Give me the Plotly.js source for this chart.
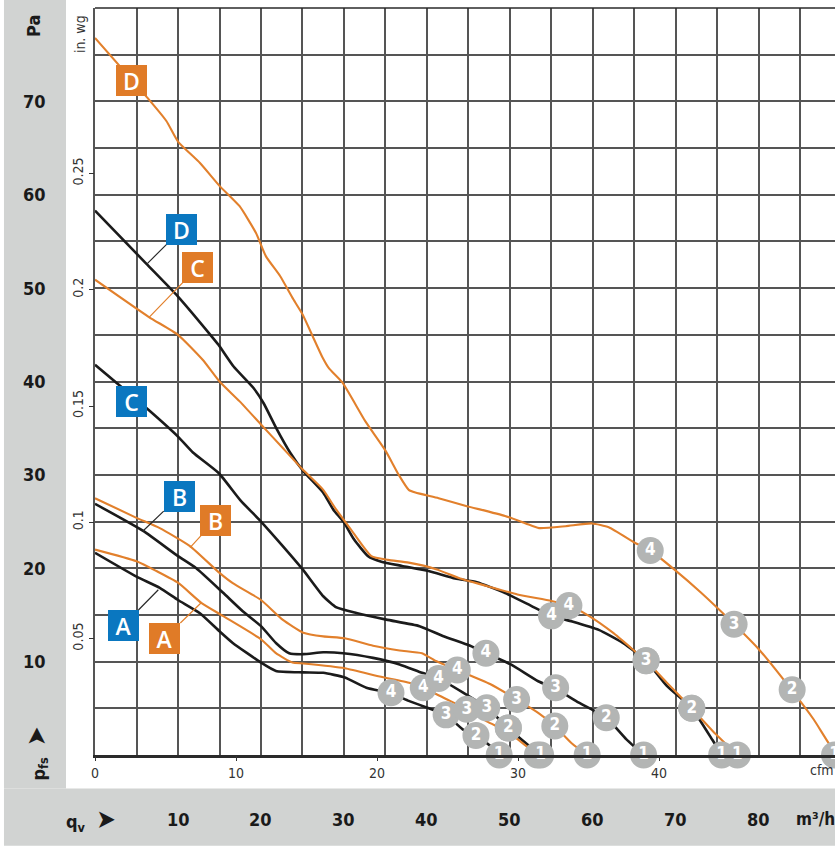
<!DOCTYPE html>
<html>
<head>
<meta charset="utf-8">
<script src="https://cdn.plot.ly/plotly-3.0.1.min.js"></script>
<style>html,body{margin:0;padding:0;background:#fff;}#chart{width:835px;height:846px;}</style>
</head>
<body>
<div id="chart"></div>
<script>
// ---- Data (x: m³/h, y: Pa) ----
const curveBA_x = [0, 5.0, 7.8, 10.0, 12.6, 15.0, 16.6, 20.0, 21.8, 25.1, 27.5, 30.1, 32.7, 35.66, 37.8, 40.2, 42.3, 44.3, 45.9, 47.6, 48.7];
const curveBA_y = [21.65, 19.1, 17.9, 16.6, 15.2, 13.25, 12.0, 9.9, 9.0, 8.85, 8.8, 8.3, 7.2, 6.6, 5.8, 5.0, 4.3, 2.75, 2.1, 1.0, 0];
const curveOA_x = [0, 5.0, 7.4, 10.0, 12.8, 15.4, 20.0, 21.8, 23.8, 25.1, 30.1, 34.3, 37.95, 39.55, 42.3, 44.8, 47.2, 49.7, 51.9, 53.3];
const curveOA_y = [22.0, 20.75, 19.7, 18.45, 16.3, 14.9, 12.4, 10.9, 9.9, 9.8, 9.3, 8.4, 7.7, 7.2, 6.0, 4.9, 3.6, 2.5, 1.0, 0];
const curveBB_x = [0, 5.8, 10.0, 12.2, 15.4, 17.8, 20.0, 21.8, 23.4, 25.1, 27.5, 29.9, 33.5, 36.7, 39.4, 41.4, 44.3, 47.2, 49.8, 52.0, 53.7];
const curveBB_y = [26.9, 24.0, 21.3, 20.0, 17.4, 15.4, 13.8, 12.0, 10.9, 10.8, 11.0, 10.9, 10.4, 9.7, 8.8, 8.2, 6.7, 5.05, 2.9, 1.2, 0];
const curveOB_x = [0, 5.0, 7.8, 11.4, 15.0, 16.6, 20.0, 22.6, 25.1, 27.5, 30.1, 33.5, 36.7, 39.4, 41.0, 43.65, 47.6, 50.8, 53.4, 55.4, 57.5, 59.3];
const curveOB_y = [27.5, 25.4, 24.3, 22.4, 19.5, 18.4, 16.6, 14.5, 13.1, 12.7, 12.5, 11.7, 11.2, 10.9, 10.1, 9.1, 7.6, 5.95, 4.5, 3.1, 1.2, 0];
const curveBC_x = [0, 6.4, 10.0, 11.8, 14.9, 17.5, 20.0, 22.6, 25.0, 27.5, 29.1, 31.5, 35.1, 39.1, 41.9, 45.2, 47.1, 50.1, 53.4, 55.5, 58.3, 61.6, 64.0, 66.1];
const curveBC_y = [41.8, 37.0, 34.1, 32.4, 30.2, 27.3, 25.0, 22.4, 19.9, 17.0, 15.8, 15.2, 14.5, 13.8, 12.75, 11.7, 10.9, 9.7, 7.9, 7.1, 5.6, 4.0, 1.7, 0];
const curveOC_x = [0, 6.5, 10.0, 13.0, 15.0, 17.4, 20.0, 22.6, 25.0, 27.5, 28.9, 30.8, 33.3, 35.3, 37.8, 41.1, 44.0, 47.2, 50.9, 55.0, 57.1, 59.5, 62.4, 65.2, 66.4, 68.9, 71.9, 74.5, 77.4];
const curveOC_y = [50.9, 46.9, 45.0, 42.3, 40.0, 37.9, 35.4, 32.9, 30.6, 28.4, 26.5, 24.2, 21.3, 20.9, 20.6, 19.9, 18.9, 18.1, 17.2, 16.5, 16.0, 14.9, 13.1, 11.0, 10.1, 7.75, 5.0, 2.5, 0];
const curveBD_x = [0, 6.2, 10.0, 13.9, 14.9, 16.7, 19.1, 20.3, 21.9, 23.5, 25.1, 27.5, 28.7, 30.0, 31.2, 32.9, 34.5, 37.0, 40.2, 43.4, 46.0, 49.3, 52.5, 55.0, 57.5, 60.7, 63.6, 66.4, 68.9, 71.9, 74.4, 75.5];
const curveBD_y = [58.3, 52.6, 49.1, 45.0, 43.9, 41.6, 39.3, 37.7, 34.9, 32.4, 30.4, 28.1, 26.3, 24.9, 23.1, 21.3, 20.7, 20.25, 19.7, 18.9, 18.5, 17.4, 16.0, 14.9, 14.3, 13.4, 12.0, 10.1, 7.4, 5.0, 1.6, 0];
const curveOD_x = [0, 6.3, 8.6, 10.0, 12.65, 15.06, 17.4, 19.4, 20.6, 22.3, 23.9, 25.0, 26.2, 27.4, 28.2, 29.8, 32.6, 35.0, 36.6, 37.8, 38.6, 41.4, 44.6, 49.4, 51.9, 53.5, 56.7, 59.9, 61.9, 65.1, 66.9, 69.75, 73.0, 76.9, 80.0, 83.9, 86.6, 88.6, 89.7];
const curveOD_y = [76.8, 70.4, 67.9, 65.7, 63.4, 60.9, 58.8, 55.9, 53.4, 51.3, 48.8, 47.2, 44.9, 42.6, 41.4, 39.9, 35.7, 32.6, 30.0, 28.4, 28.1, 27.5, 26.7, 25.6, 24.8, 24.3, 24.5, 24.8, 24.4, 22.7, 21.9, 19.9, 17.4, 14.1, 11.3, 7.0, 3.8, 1.0, 0];

// operating points 1..4
const pointLabels = ['1', '2', '3', '4'];
const ptsBA_x = [48.7, 45.9, 42.3, 35.66], ptsBA_y = [0, 2.1, 4.3, 6.66];
const ptsOA_x = [53.3, 49.8, 44.8, 39.55], ptsOA_y = [0, 2.9, 4.9, 7.2];
const ptsBB_x = [53.7, 49.8, 47.2, 41.4], ptsBB_y = [0, 2.9, 5.05, 8.2];
const ptsOB_x = [59.3, 55.4, 50.8, 43.65], ptsOB_y = [0, 3.1, 5.95, 9.1];
const ptsBC_x = [66.1, 61.6, 55.5, 47.1], ptsBC_y = [0, 4.0, 7.2, 10.9];
const ptsBD_x = [75.5, 71.9, 66.4, 55.0], ptsBD_y = [0, 5.0, 10.1, 14.9];
const ptsOC_x = [77.4, 71.9, 66.4, 57.1], ptsOC_y = [0, 5.0, 10.1, 16.0];
const ptsOD_x = [89.1, 84.0, 77.0, 66.9], ptsOD_y = [0, 7.0, 14.0, 21.9];

// curve labels
const labelText = ['D', 'C', 'B', 'A', 'C', 'D', 'B', 'A'];
const labelSeries = ['black', 'orange', 'black', 'black', 'black', 'orange', 'orange', 'orange'];
const labelAnchorX = [6.27, 6.54, 5.75, 7.63, 4.43, 4.42, 11.45, 12.86];
const labelAnchorY = [52.6, 46.9, 23.96, 17.7, 37.87, 72.2, 22.2, 16.36];

// axis tick labels
const paTicks = [10, 20, 30, 40, 50, 60, 70];
const m3hTicks = [10, 20, 30, 40, 50, 60, 70, 80];
const cfmTicks = [0, 10, 20, 30, 40];
const inwgTicks = [0.05, 0.1, 0.15, 0.2, 0.25];
const inwgTickText = ['0.05', '0.1', '0.15', '0.2', '0.25'];

// ---- Styles ----
const BLACK = '#1b1b1b', ORANGE = '#e2802c', BLUE_BOX = '#0a77c0', ORANGE_BOX = '#e07b27';
const CIRCLE = '#b3b5b4', PANEL = '#d1d3d2';
const NARROW = 'Liberation Sans Narrow, DejaVu Sans Condensed, Arial Narrow, sans-serif';
const M3H_PER_CFM = 1.69901;
const PA_PER_INWG = 249.089;
const XMAX = 89.16, YMAX = 80;

function line(x, y, color, w) {
  return {x, y, type: 'scatter', mode: 'lines', line: {color, width: w, shape: 'spline', smoothing: 0.5}, hoverinfo: 'skip', showlegend: false};
}
function pts(x, y) {
  return {x, y, type: 'scatter', mode: 'markers+text', text: pointLabels,
    marker: {size: 27, color: CIRCLE, line: {width: 0}},
    textposition: 'middle center', textfont: {color: '#ffffff', size: 17, family: NARROW, weight: 'bold'},
    cliponaxis: false, hoverinfo: 'skip', showlegend: false};
}

const data = [
  line(curveBA_x, curveBA_y, BLACK, 2.6),
  line(curveBB_x, curveBB_y, BLACK, 2.6),
  line(curveBC_x, curveBC_y, BLACK, 2.6),
  line(curveBD_x, curveBD_y, BLACK, 2.6),
  line(curveOA_x, curveOA_y, ORANGE, 2.1),
  line(curveOB_x, curveOB_y, ORANGE, 2.1),
  line(curveOC_x, curveOC_y, ORANGE, 2.1),
  line(curveOD_x, curveOD_y, ORANGE, 2.1),
  pts(ptsBA_x, ptsBA_y), pts(ptsOA_x, ptsOA_y), pts(ptsBB_x, ptsBB_y), pts(ptsOB_x, ptsOB_y),
  pts(ptsBC_x, ptsBC_y), pts(ptsBD_x, ptsBD_y), pts(ptsOC_x, ptsOC_y), pts(ptsOD_x, ptsOD_y),
  // invisible traces to activate overlay axes
  {x: [0], y: [0], xaxis: 'x2', yaxis: 'y', type: 'scatter', mode: 'markers', marker: {opacity: 0}, hoverinfo: 'skip', showlegend: false},
  {x: [0], y: [0], xaxis: 'x', yaxis: 'y2', type: 'scatter', mode: 'markers', marker: {opacity: 0}, hoverinfo: 'skip', showlegend: false}
];

// label boxes (pixel offsets of box from anchor)
const labelOffsetX = [34.8, 48.5, 36.5, -35.1, 0, 0, 25.2, -36.9];
const labelOffsetY = [-34.8, -49.9, -34.9, 35.8, 0, 0, -27.5, 35.8];

const annotations = [];
for (let i = 0; i < labelText.length; i++) {
  const isOrange = labelSeries[i] === 'orange';
  const hasArrow = !(labelOffsetX[i] === 0 && labelOffsetY[i] === 0);
  annotations.push({
    x: labelAnchorX[i], y: labelAnchorY[i], xref: 'x', yref: 'y',
    text: labelText[i], showarrow: hasArrow, ax: labelOffsetX[i], ay: labelOffsetY[i],
    arrowhead: 0, arrowwidth: 1.2, arrowcolor: isOrange ? ORANGE : '#2a2a2a', standoff: 0,
    bgcolor: isOrange ? ORANGE_BOX : BLUE_BOX, borderpad: 0, borderwidth: 0,
    width: 31, height: 31, align: 'center', valign: 'middle',
    font: {family: 'Open Sans, Noto Sans, sans-serif', size: 23, color: '#ffffff', weight: 600}
  });
}
paTicks.forEach(v => annotations.push({
  x: -0.0811, xref: 'paper', y: v, yref: 'y', text: String(v), showarrow: false,
  xanchor: 'center', yanchor: 'middle',
  font: {family: NARROW, size: 18, color: '#1a1a1a', weight: 'bold'}
}));
m3hTicks.forEach(v => annotations.push({
  x: v, xref: 'x', y: -0.0863, yref: 'paper', text: String(v), showarrow: false,
  xanchor: 'center', yanchor: 'middle',
  font: {family: NARROW, size: 18, color: '#1a1a1a', weight: 'bold'}
}));
annotations.push(
  {x: 0.973, xref: 'paper', y: -0.0863, yref: 'paper', text: 'm³/h', showarrow: false, xanchor: 'center', yanchor: 'middle',
   font: {family: NARROW, size: 17, color: '#1a1a1a', weight: 'bold'}},
  {x: -0.0054, xref: 'paper', y: -0.0863, yref: 'paper', text: 'q<sub>v</sub>  <span style="font-size:26px">➤</span>', showarrow: false, xanchor: 'center', yanchor: 'middle',
   font: {family: NARROW, size: 18, color: '#1a1a1a', weight: 'bold'}},
  {x: -0.0797, xref: 'paper', y: 0.002, yref: 'paper', text: 'p<sub>fs</sub>  <span style="font-size:26px">➤</span>', showarrow: false, textangle: -90, xanchor: 'center', yanchor: 'middle',
   font: {family: NARROW, size: 18, color: '#1a1a1a', weight: 'bold'}},
  {x: -0.0824, xref: 'paper', y: 0.976, yref: 'paper', text: 'Pa', showarrow: false, textangle: -90, xanchor: 'center', yanchor: 'middle',
   font: {family: NARROW, size: 18, color: '#1a1a1a', weight: 'bold'}},
  {x: -0.0203, xref: 'paper', y: 0.965, yref: 'paper', text: 'in. wg', showarrow: false, textangle: -90, xanchor: 'center', yanchor: 'middle',
   font: {family: NARROW, size: 14, color: '#333333'}},
  {x: 0.9824, xref: 'paper', y: -0.0207, yref: 'paper', text: 'cfm', showarrow: false, xanchor: 'center', yanchor: 'middle',
   font: {family: NARROW, size: 14, color: '#333333'}}
);

const layout = {
  width: 835, height: 846,
  margin: {l: 95, r: 0, t: 8, b: 91, pad: 0},
  paper_bgcolor: '#ffffff', plot_bgcolor: '#ffffff',
  showlegend: false,
  xaxis: {range: [0, XMAX], dtick: 5, tick0: 0, showgrid: true, gridcolor: '#555555', gridwidth: 2,
    showticklabels: false, ticks: '', zeroline: false, showline: true, linecolor: '#2a2a2a', linewidth: 2.6, fixedrange: true},
  xaxis2: {range: [0, XMAX / M3H_PER_CFM], overlaying: 'x', side: 'bottom', anchor: 'y', tickvals: cfmTicks,
    ticks: 'outside', ticklen: 5, tickwidth: 1, tickcolor: '#333', showgrid: false, zeroline: false, showline: false,
    tickfont: {family: NARROW, size: 14, color: '#333333'}, fixedrange: true},
  yaxis: {range: [0, YMAX], dtick: 5, tick0: 0, showgrid: true, gridcolor: '#555555', gridwidth: 2,
    showticklabels: false, ticks: '', zeroline: false, showline: true, linecolor: '#555555', linewidth: 1.8, fixedrange: true},
  yaxis2: {range: [0, YMAX / PA_PER_INWG], overlaying: 'y', side: 'left', anchor: 'x', tickvals: inwgTicks, ticktext: inwgTickText,
    tickangle: -90, ticks: 'outside', ticklen: 5, tickwidth: 1, tickcolor: '#333', showgrid: false, zeroline: false, showline: false,
    tickfont: {family: NARROW, size: 14, color: '#333333'}, fixedrange: true},
  shapes: [
    {type: 'rect', xref: 'paper', yref: 'paper', x0: -0.1230, x1: -0.0392, y0: -0.0448, y1: 1.02, fillcolor: PANEL, line: {width: 0}, layer: 'below'},
    {type: 'rect', xref: 'paper', yref: 'paper', x0: -0.1230, x1: 1.0, y0: -0.1215, y1: -0.0448, fillcolor: PANEL, line: {width: 0}, layer: 'below'},
    {type: 'line', xref: 'paper', yref: 'paper', x0: 0, x1: 1, y0: 1, y1: 1, line: {color: '#2a2a2a', width: 1.5}}
  ],
  annotations
};

Plotly.newPlot('chart', data, layout, {staticPlot: true, displayModeBar: false});
</script>
</body>
</html>
